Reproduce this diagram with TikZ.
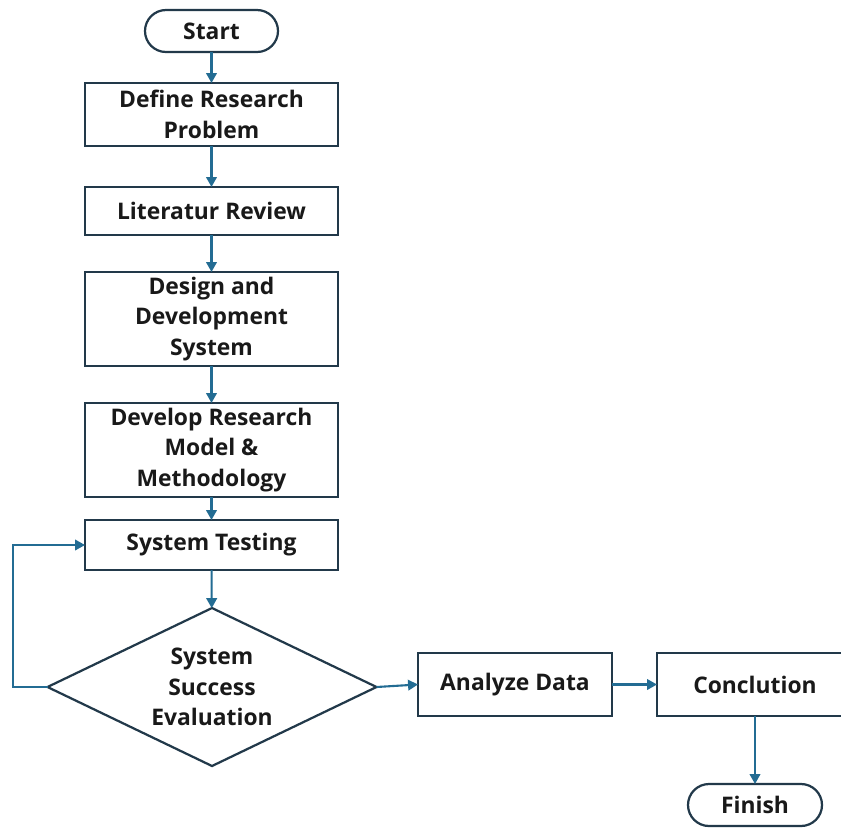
\documentclass[tikz,border=0pt]{standalone}
\usepackage{fontspec}
\setmainfont{Open Sans}
\usetikzlibrary{shapes.geometric,arrows.meta}
\definecolor{boxline}{HTML}{22394A}
\definecolor{flow}{HTML}{236C93}
\newlength\ux
\setlength\ux{0.03cm}
\begin{document}
\begin{tikzpicture}[x=0.03cm,y=-0.03cm,
  every node/.style={font=\bfseries\fontsize{19.5}{26}\selectfont, align=center,
    inner sep=0pt, outer sep=0pt, text=black!90},
  stepbox/.style={draw=boxline, line width=2.2pt, fill=white, minimum width=253\ux},
  terminal/.style={draw=boxline, line width=1.9pt, fill=white, rounded corners=21\ux,
    minimum width=133\ux, minimum height=42\ux},
  decision/.style={draw=boxline, line width=1.9pt, fill=white, diamond, aspect=2.08,
    minimum width=329\ux, minimum height=158\ux},
  link/.style={draw=flow, line width=1.8pt, -{Triangle[length=8.5pt,width=9pt]}}]
\useasboundingbox (0,0) rectangle (841,827);

% main vertical column
\node[terminal] (start) at (211.5,31) {Start};
\node[stepbox, minimum height=63\ux] (define) at (211.5,114.5) {Define Research\\Problem};
\node[stepbox, minimum height=48\ux] (lit) at (211.5,211) {Literatur Review};
\node[stepbox, minimum height=94\ux] (design) at (211.5,319) {Design and\\Development\\System};
\node[stepbox, minimum height=94\ux] (model) at (211.5,450) {Develop Research\\Model \&\\Methodology};
\node[stepbox, minimum height=50\ux] (test) at (211.5,545) {System Testing};
\node[decision] (eval) at (212,687) {System\\Success\\Evaluation};

% horizontal branch
\node[stepbox, minimum width=194\ux, minimum height=63\ux] (data) at (515,684.5) {Analyze Data};
\node[stepbox, minimum width=196\ux, minimum height=63\ux] (concl) at (755,684.5) {Conclution};
\node[terminal, minimum width=134\ux] (finish) at (755,805) {Finish};

% connectors
\draw[link] (start) -- (define);
\draw[link] (define) -- (lit);
\draw[link] (lit) -- (design);
\draw[link] (design) -- (model);
\draw[link] (model) -- (test);
\draw[link] (test) -- (eval);
\coordinate (loop) at (13,545);
\draw[link] (eval.west) -| (loop) -- (test.west);
\draw[link] (eval.east) -- (data.west);
\draw[link] (data) -- (concl);
\draw[link] (concl) -- (finish);
\end{tikzpicture}
\end{document}
